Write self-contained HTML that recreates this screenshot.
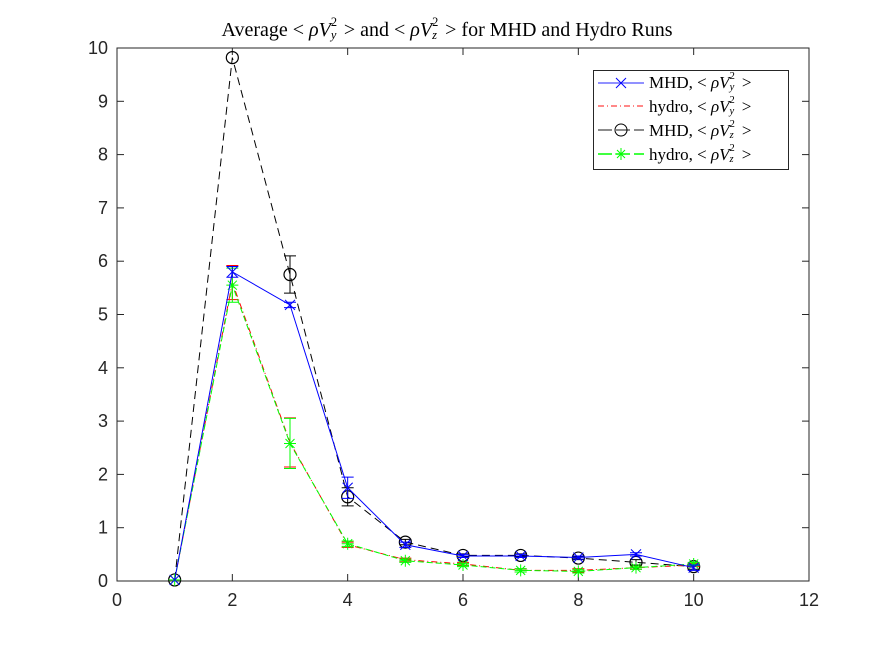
<!DOCTYPE html>
<html><head><meta charset="utf-8"><style>
body{margin:0;background:#fff;width:894px;height:652px;overflow:hidden}
svg{display:block}
.tk{font-family:"Liberation Sans",sans-serif;font-size:18px;fill:#262626}
.ss{position:relative;display:inline-block;width:8px;height:1em;vertical-align:baseline}
.ss .up{position:absolute;left:0;top:-0.45em;font-size:0.62em;font-style:normal}
.ss .dn{position:absolute;left:0;top:0.55em;font-size:0.62em;font-style:italic}
.le{position:absolute;left:55px;height:22px;line-height:22px;white-space:nowrap}
</style></head><body>
<svg id="chart" width="894" height="652"></svg>
<script>
const xs=[1,2,3,4,5,6,7,8,9,10];
const mhdY=[0.02,5.8,5.18,1.75,0.68,0.47,0.47,0.44,0.5,0.25];
const mhdYErr=[0,0.1,0.05,0.2,0.05,0.03,0.03,0.03,0.03,0.05];
const hydY=[0.02,5.6,2.6,0.68,0.4,0.32,0.2,0.2,0.25,0.3];
const hydYErr=[0,0.32,0.46,0.05,0.03,0.03,0.03,0.03,0.03,0.03];
const mhdZ=[0.02,9.82,5.75,1.58,0.73,0.48,0.48,0.43,0.35,0.27];
const mhdZErr=[0,0,0.35,0.17,0.05,0.03,0.03,0.03,0.05,0.05];
const hydZ=[0.02,5.55,2.58,0.7,0.38,0.3,0.2,0.18,0.25,0.32];
const hydZErr=[0,0.32,0.47,0.05,0.03,0.03,0.03,0.03,0.03,0.03];
const xTicks=[0,2,4,6,8,10,12];
const yTicks=[0,1,2,3,4,5,6,7,8,9,10];
const L=117,R=809,T=48,B=581;
const X=v=>L+(v-0)/12*(R-L);
const Y=v=>B-(v-0)/10*(B-T);
const svg=document.getElementById('chart');
const NS='http://www.w3.org/2000/svg';
function mk(t,a,p){const e=document.createElementNS(NS,t);for(const k in a)e.setAttribute(k,a[k]);(p||svg).appendChild(e);return e;}
let ax=mk('rect',{x:L,y:T,width:R-L,height:B-T,fill:'#fff',stroke:'#262626','stroke-width':1});


xTicks.forEach(v=>{
  mk('line',{x1:X(v),x2:X(v),y1:B,y2:B-7,stroke:'#262626'});
  mk('line',{x1:X(v),x2:X(v),y1:T,y2:T+7,stroke:'#262626'});
  const t=mk('text',{x:X(v),y:B+25,'text-anchor':'middle',class:'tk'});t.textContent=v;
  
  
});
yTicks.forEach(v=>{
  mk('line',{x1:L,x2:L+7,y1:Y(v),y2:Y(v),stroke:'#262626'});
  mk('line',{x1:R,x2:R-7,y1:Y(v),y2:Y(v),stroke:'#262626'});
  const t=mk('text',{x:L-9,y:Y(v)+6,'text-anchor':'end',class:'tk'});t.textContent=v;
  
  
});
function marker(g,type,x,y,c){
  if(type==='x'){mk('path',{d:`M${x-5},${y-5}L${x+5},${y+5}M${x-5},${y+5}L${x+5},${y-5}`,stroke:c,fill:'none'},g);}
  else if(type==='o'){mk('circle',{cx:x,cy:y,r:6,stroke:c,fill:'none','stroke-width':1.2},g);}
  else if(type==='*'){mk('path',{d:`M${x-6},${y}L${x+6},${y}M${x},${y-6}L${x},${y+6}M${x-4.5},${y-4.5}L${x+4.5},${y+4.5}M${x-4.5},${y+4.5}L${x+4.5},${y-4.5}`,stroke:c,fill:'none'},g);}
}
function series(name,vals,errs,color,dash,mt){
  const g=mk('g',{});
  
  
  mk('polyline',{points:xs.map((x,i)=>X(x)+','+Y(vals[i])).join(' '),fill:'none',stroke:color,'stroke-width':1,'stroke-dasharray':dash},g);
  xs.forEach((x,i)=>{
    if(errs[i]>0){const px=X(x),a=Y(vals[i]-errs[i]),b=Y(vals[i]+errs[i]);
      mk('path',{d:`M${px},${a}L${px},${b}M${px-6},${a}L${px+6},${a}M${px-6},${b}L${px+6},${b}`,stroke:color,fill:'none'},g);}
    marker(g,mt,X(x),Y(vals[i]),color);
  });
}
series('series-mhd-vz',mhdZ,mhdZErr,'#000','8,5','o');
series('series-hydro-vy',hydY,hydYErr,'#ff0000','6,3,1,3','none');
series('series-hydro-vz',hydZ,hydZErr,'#00ff00','6,3','*');
series('series-mhd-vy',mhdY,mhdYErr,'#0000ff','','x');
</script>
<div style="position:absolute;left:0;top:16px;width:894px;text-align:center;font-family:'Liberation Serif',serif;font-size:20px;line-height:24px;color:#000">Average &lt; <i>ρV</i><span class="ss"><span class="up">2</span><span class="dn">y</span></span> &gt; and &lt; <i>ρV</i><span class="ss"><span class="up">2</span><span class="dn">z</span></span> &gt; for MHD and Hydro Runs</div>
<div style="position:absolute;left:593px;top:70px;width:194px;height:98px;border:1px solid #262626;background:#fff;font-family:'Liberation Serif',serif;font-size:17px">
 <svg width="60" height="98" style="position:absolute;left:0;top:0">
  <line x1="4" x2="50" y1="12" y2="12" stroke="#6d6dff" stroke-width="1.5"/><path d="M22,7L32,17M22,17L32,7" stroke="#00f"/>
  <line x1="4" x2="50" y1="35" y2="35" stroke="#ff6060" stroke-width="1.5" stroke-dasharray="6,3,1,3"/>
  <line x1="4" x2="50" y1="59" y2="59" stroke="#666" stroke-width="1.5" stroke-dasharray="14,4"/><circle cx="27" cy="59" r="6" fill="none" stroke="#000"/>
  <line x1="4" x2="50" y1="83" y2="83" stroke="#0f0" stroke-width="1.5" stroke-dasharray="14,4"/><path d="M21,83L33,83M27,77L27,89M23,79L31,87M23,87L31,79" stroke="#0f0"/>
 </svg>
 <div class="le" style="top:0px">MHD, &lt; <i>ρV</i><span class="ss"><span class="up">2</span><span class="dn">y</span></span> &gt;</div>
 <div class="le" style="top:24px">hydro, &lt; <i>ρV</i><span class="ss"><span class="up">2</span><span class="dn">y</span></span> &gt;</div>
 <div class="le" style="top:48px">MHD, &lt; <i>ρV</i><span class="ss"><span class="up">2</span><span class="dn">z</span></span> &gt;</div>
 <div class="le" style="top:72px">hydro, &lt; <i>ρV</i><span class="ss"><span class="up">2</span><span class="dn">z</span></span> &gt;</div>
</div>
</body></html>
